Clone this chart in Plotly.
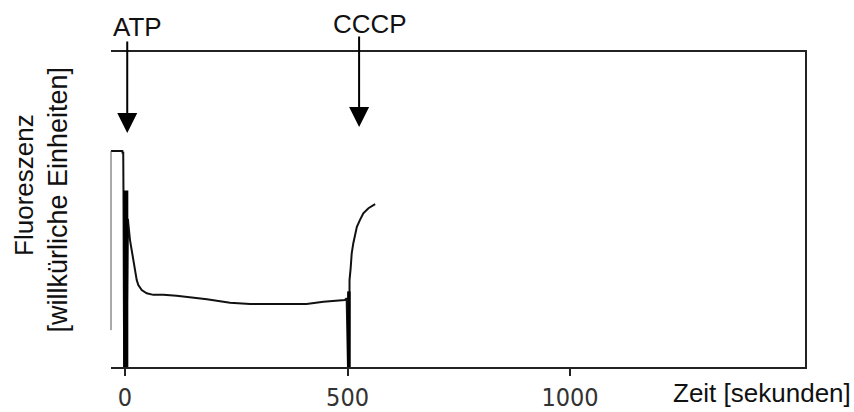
import plotly.graph_objects as go

# Fluorescence trace (time in seconds, arbitrary fluorescence units)
time_s = [-31.5, -6, -5.5, -4, -3.5, -2, 3, 6.5, 7.4, 11.2, 15.1, 18.7, 22.5, 26.3,
          29.9, 37.5, 48.8, 63.6, 86, 116, 184, 236, 281, 408, 446, 494, 498,
          501, 504, 504.5, 507, 509.4, 513, 517, 521, 528, 535.5, 547, 562]
fluorescence = [68.6, 68.6, 68.0, 68.0, 56.0, 0, 0, 47.0, 45.6, 40.3, 37.1, 33.0, 29.8, 27.6,
                26.0, 24.4, 23.4, 22.9, 22.9, 22.6, 21.5, 20.4, 20.0, 20.0, 20.7, 21.3, 21.8,
                0, 0, 27.6, 31.3, 36.1, 39.3, 42.4, 44.5, 46.7, 48.8, 50.4, 51.7]

# Injection marks drawn by the recorder (time, height of mark)
injection_time = [1.8, 503]
injection_top = [56.0, 24.0]
injection_width = [5, 3.5]

tick_vals = [0, 500, 1000]
tick_text = ["0", "500", "1000"]

event_labels = ["ATP", "CCCP"]

TXT = "Liberation Sans, Arial, Helvetica, sans-serif"
TICKF = "Liberation Sans Narrow, Arial Narrow, DejaVu Sans Condensed, sans-serif"

fig = go.Figure()
fig.add_trace(go.Scatter(x=time_s, y=fluorescence, mode="lines",
                         line=dict(color="#111111", width=2), showlegend=False,
                         hoverinfo="skip"))
for t, top, w in zip(injection_time, injection_top, injection_width):
    fig.add_trace(go.Scatter(x=[t, t], y=[0, top], mode="lines",
                             line=dict(color="#000000", width=w), showlegend=False,
                             hoverinfo="skip"))

fig.update_layout(
    width=854, height=412,
    margin=dict(l=111, r=49, t=52, b=45),
    paper_bgcolor="white", plot_bgcolor="white",
    xaxis=dict(range=[-31.5, 1528], showgrid=False, zeroline=False, automargin=False,
               showline=True, mirror=True, linecolor="#222222", linewidth=2,
               ticks="outside", ticklen=7, tickwidth=1.5, tickcolor="#222222",
               tickvals=tick_vals, ticktext=tick_text, ticklabelstandoff=0,
               tickfont=dict(family=TICKF, size=25, color="#333333")),
    yaxis=dict(range=[0, 100], showgrid=False, zeroline=False, side="right",
               automargin=False,
               showline=True, linecolor="#222222", linewidth=1.5,
               showticklabels=False, ticks=""),
    shapes=[dict(type="line", xref="paper", yref="y", x0=0, x1=0, y0=11.7, y1=68.6,
                 line=dict(color="#555555", width=1))],
    annotations=[
        dict(text="Fluoreszenz", textangle=-90, xref="paper", yref="paper",
             x=-0.1254, y=0.578, showarrow=False, xanchor="center", yanchor="middle",
             font=dict(family=TXT, size=26, color="#111111")),
        dict(text="[willkürliche Einheiten]", textangle=-90, xref="paper", yref="paper",
             x=-0.077, y=0.530, showarrow=False, xanchor="center", yanchor="middle",
             font=dict(family=TXT, size=27, color="#111111")),
        dict(text=event_labels[0], xref="paper", yref="paper", x=0.0389, y=1.078,
             showarrow=False, xanchor="center", yanchor="middle",
             font=dict(family=TXT, size=26, color="#111111")),
        dict(text=event_labels[1], xref="paper", yref="paper", x=0.3732, y=1.089,
             showarrow=False, xanchor="center", yanchor="middle",
             font=dict(family=TXT, size=26, color="#111111")),
        dict(text="Zeit [sekunden]", xref="paper", yref="paper", x=0.9376, y=-0.0825,
             showarrow=False, xanchor="center", yanchor="middle",
             font=dict(family=TXT, size=26, color="#111111")),
        dict(text="", x=5, y=74.3, xref="x", yref="y", ax=5, ay=103.8,
             axref="x", ayref="y", showarrow=True, arrowhead=2, arrowsize=2,
             arrowwidth=2, arrowcolor="#000000"),
        dict(text="", x=526, y=76.2, xref="x", yref="y", ax=526, ay=105.4,
             axref="x", ayref="y", showarrow=True, arrowhead=2, arrowsize=2,
             arrowwidth=2, arrowcolor="#000000"),
    ],
)

fig.write_html("out.html")
